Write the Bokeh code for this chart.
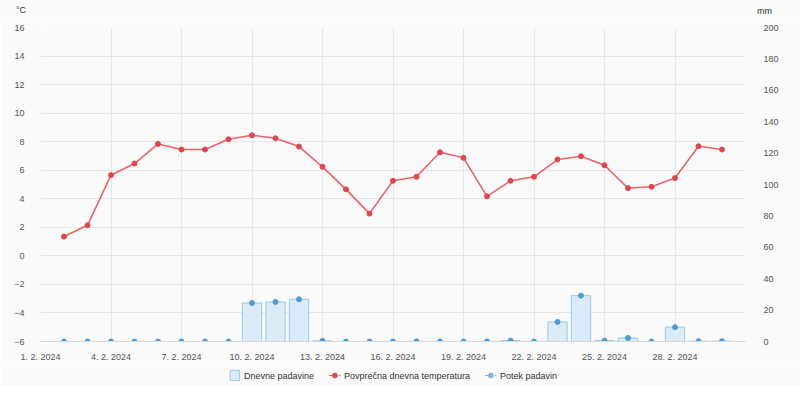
from bokeh.plotting import figure
from bokeh.layouts import column
from bokeh.models import (Range1d, LinearAxis, FixedTicker, ColumnDataSource, Legend,
                          LegendItem, Div)
from bokeh.embed import file_html
from bokeh.resources import INLINE

# ---- data ----
days = list(range(1, 30))  # position of each daily value on the axis
temperature = [1.35, 2.14, 5.66, 6.47, 7.84, 7.45, 7.45, 8.17, 8.45, 8.24, 7.66, 6.24, 4.66, 2.96,
               5.26, 5.54, 7.26, 6.87, 4.17, 5.26, 5.54, 6.75, 6.98, 6.35, 4.75, 4.84, 5.45, 7.68, 7.45]
precipitation = [0, 0, 0, 0, 0, 0, 0, 0, 24.5, 25.2, 26.9, 0.4, 0, 0,
                 0, 0.1, 0, 0, 0, 0.6, 0, 12.5, 29.2, 0.6, 2.3, 0, 9.1, 0.2, 0.2]
tick_positions = [0, 3, 6, 9, 12, 15, 18, 21, 24, 27]
tick_labels = ["1. 2. 2024", "4. 2. 2024", "7. 2. 2024", "10. 2. 2024", "13. 2. 2024",
               "16. 2. 2024", "19. 2. 2024", "22. 2. 2024", "25. 2. 2024", "28. 2. 2024"]
temp_ticks = list(range(-6, 17, 2))
mm_ticks = list(range(0, 201, 20))
unit_left = "°C"
unit_right = "mm"

BG = "#fafafa"
GRID = "#e6e6e6"
TXT = "#555555"
FONT = "Liberation Sans"
FS = "9px"

TEMP_LINE = "#e8646a"
TEMP_DOT = "#e0464f"
BAR_FILL = "#dcebfa"
BAR_LINE = "#9dc8ea"
RAIN_DOT = "#4e9bd6"

LEFT, RIGHT = 40, 55

# ---- unit labels row ----
top = Div(
    text=(f'<div style="position:relative;width:800px;height:20px;font-family:\'{FONT}\';'
          f'font-size:{FS};color:#333333;">'
          f'<span style="position:absolute;left:16px;top:4px;">{unit_left}</span>'
          f'<span style="position:absolute;left:757px;top:5px;">{unit_right}</span></div>'),
    width=800, height=20, margin=0, styles={"background-color": BG})

# ---- main chart ----
p = figure(width=800, height=344, output_backend="svg", toolbar_location=None,
           x_range=Range1d(0, 30), y_range=Range1d(-6, 16),
           min_border_left=LEFT, min_border_right=RIGHT, min_border_top=7, min_border_bottom=22)
p.background_fill_color = BG
p.border_fill_color = BG
p.outline_line_color = None

p.extra_y_ranges = {"mm": Range1d(0, 200)}

src = ColumnDataSource(dict(x=days, t=temperature, r=precipitation))

p.vbar(x="x", top="r", width=0.82, bottom=0, source=src, y_range_name="mm",
       fill_color=BAR_FILL, line_color=BAR_LINE, line_width=1)
p.line(x="x", y="t", source=src, line_color=TEMP_LINE, line_width=1.6)
p.scatter(x="x", y="t", source=src, size=5, fill_color=TEMP_DOT, line_color=TEMP_DOT)
p.scatter(x="x", y="r", source=src, y_range_name="mm", size=5,
          fill_color=RAIN_DOT, line_color=RAIN_DOT)

p.xaxis.ticker = FixedTicker(ticks=tick_positions)
p.xaxis.major_label_overrides = {k: v for k, v in zip(tick_positions, tick_labels)}
p.yaxis.ticker = FixedTicker(ticks=temp_ticks)

right = LinearAxis(y_range_name="mm", ticker=FixedTicker(ticks=mm_ticks))
p.add_layout(right, "right")

for ax in [p.xaxis[0], p.yaxis[0], right]:
    ax.major_tick_line_color = None
    ax.minor_tick_line_color = None
    ax.major_label_text_font = FONT
    ax.major_label_text_font_size = FS
    ax.major_label_text_color = TXT
p.yaxis[0].axis_line_color = None
right.axis_line_color = None
p.xaxis[0].axis_line_color = "#d8d8d8"
p.xaxis[0].major_label_standoff = 4
p.yaxis[0].major_label_standoff = 10
right.major_label_standoff = 12

p.xgrid.ticker = FixedTicker(ticks=tick_positions)
p.xgrid.grid_line_color = GRID
p.ygrid.grid_line_color = GRID

# ---- legend strip ----
lf = figure(width=800, height=22, output_backend="svg", toolbar_location=None,
            x_range=Range1d(0, 1), y_range=Range1d(0, 1),
            min_border_left=LEFT, min_border_right=RIGHT, min_border_top=0, min_border_bottom=0)
lf.axis.visible = False
lf.grid.visible = False
lf.outline_line_color = None
lf.background_fill_color = BG
lf.border_fill_color = BG

dummy = ColumnDataSource(dict(x=[-50, -40], y=[-50, -50]))
lg_bar = lf.vbar(x="x", top="y", width=5, source=dummy, fill_color=BAR_FILL, line_color=BAR_LINE)
lg_t_line = lf.line(x="x", y="y", source=dummy, line_color=TEMP_LINE, line_width=1.2, line_dash="3 2")
lg_t_dot = lf.scatter(x="x", y="y", source=dummy, size=5, fill_color=TEMP_DOT, line_color=TEMP_DOT)
lg_p_line = lf.line(x="x", y="y", source=dummy, line_color="#7fb5e0", line_width=1.2, line_dash="3 2")
lg_p_dot = lf.scatter(x="x", y="y", source=dummy, size=5, fill_color="#7fb5e0", line_color="#7fb5e0")

legend = Legend(items=[
    LegendItem(label="Dnevne padavine", renderers=[lg_bar]),
    LegendItem(label="Povprečna dnevna temperatura", renderers=[lg_t_line, lg_t_dot]),
    LegendItem(label="Potek padavin", renderers=[lg_p_line, lg_p_dot]),
], orientation="horizontal", location="center")
legend.background_fill_alpha = 0
legend.border_line_color = None
legend.label_text_font = FONT
legend.label_text_font_size = FS
legend.label_text_color = "#333333"
legend.glyph_width = 12
legend.glyph_height = 13
legend.spacing = 14
legend.label_standoff = 4
legend.padding = 2
legend.margin = 0
lf.add_layout(legend, "center")

layout = column(top, p, lf, spacing=0)
open("out.html", "w").write(file_html(layout, INLINE))
